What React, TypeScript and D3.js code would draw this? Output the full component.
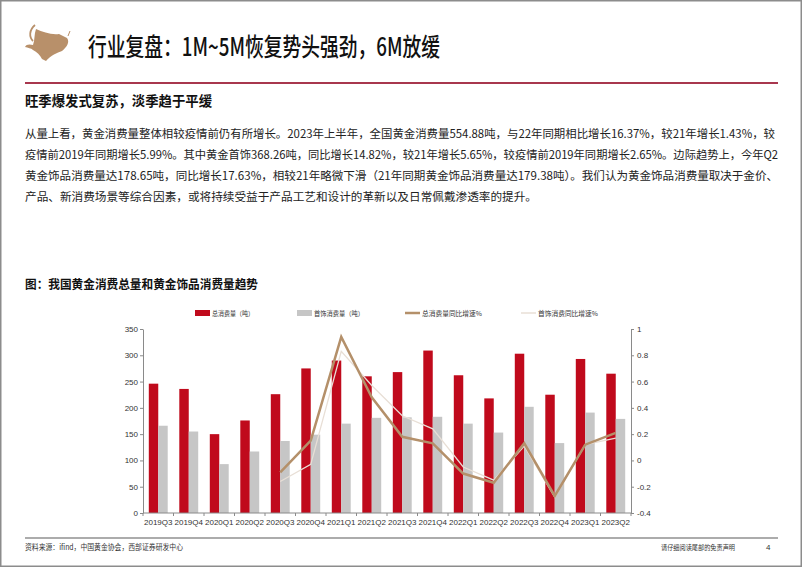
import React, { useEffect, useRef } from 'react';
import * as d3 from 'd3';

// quarterly gold consumption (tonnes) and YoY growth
const quarters = ['2019Q3', '2019Q4', '2020Q1', '2020Q2', '2020Q3', '2020Q4', '2021Q1', '2021Q2',
  '2021Q3', '2021Q4', '2022Q1', '2022Q2', '2022Q3', '2022Q4', '2023Q1', '2023Q2'];
const totalTons = [246, 236, 150, 176, 226, 275, 290, 260, 268, 309, 262, 218, 303, 225, 293, 265];
const jewelryTons = [166, 155, 93, 117, 137, 149, 170, 181, 182, 183, 170, 153, 202, 133, 191, 179];
const totalYoY = [null, null, null, null, -0.09, 0.15, 0.94, 0.48, 0.18, 0.13, -0.1, -0.17, 0.13, -0.27, 0.12, 0.21];
const jewelryYoY = [null, null, null, null, -0.16, -0.03, 0.83, 0.57, 0.34, 0.24, -0.05, -0.15, 0.11, -0.28, 0.12, 0.17];
const leftTicks = [0, 50, 100, 150, 200, 250, 300, 350];
const rightTicks = [-0.4, -0.2, 0, 0.2, 0.4, 0.6, 0.8, 1];

const legendItems = [
  { label: '总消费量（吨）', kind: 'bar', color: '#C00A1C' },
  { label: '首饰消费量（吨）', kind: 'bar', color: '#C6C6C6' },
  { label: '总消费量同比增速%', kind: 'line', color: '#B4906A' },
  { label: '首饰消费同比增速%', kind: 'line', color: '#E8DFD6' },
];

const paragraph = [
  '从量上看，黄金消费量整体相较疫情前仍有所增长。2023年上半年，全国黄金消费量554.88吨，与22年同期相比增长16.37%，较21年增长1.43%，较',
  '疫情前2019年同期增长5.99%。其中黄金首饰368.26吨，同比增长14.82%，较21年增长5.65%，较疫情前2019年同期增长2.65%。边际趋势上，今年Q2',
  '黄金饰品消费量达178.65吨，同比增长17.63%，相较21年略微下滑（21年同期黄金饰品消费量达179.38吨）。我们认为黄金饰品消费量取决于金价、',
  '产品、新消费场景等综合因素，或将持续受益于产品工艺和设计的革新以及日常佩戴渗透率的提升。',
];
const paragraphWidths = [750, 753, 753, 512];

const CJK = '"Noto Sans CJK SC", "Noto Sans", sans-serif';
const NUM = '"Liberation Sans", Arial, sans-serif';

const Chart = () => {
  const gRef = useRef(null);

  useEffect(() => {
    const g = d3.select(gRef.current);
    g.selectAll('*').remove();

    const left = 143, right = 631, top = 329, bottom = 513;

    const x = d3.scaleBand().domain(quarters).range([left, right]).padding(0);
    const yL = d3.scaleLinear().domain([0, 350]).range([bottom, top]);
    const yR = d3.scaleLinear().domain([-0.4, 1]).range([bottom, top]);
    const barW = x.bandwidth() * 0.31;
    const cx = (q) => x(q) + x.bandwidth() / 2;

    // bars
    g.append('g').selectAll('rect').data(quarters).enter().append('rect')
      .attr('x', q => cx(q) - barW)
      .attr('y', (q, i) => yL(totalTons[i]))
      .attr('width', barW)
      .attr('height', (q, i) => yL(0) - yL(totalTons[i]))
      .attr('fill', legendItems[0].color);

    g.append('g').selectAll('rect').data(quarters).enter().append('rect')
      .attr('x', q => cx(q))
      .attr('y', (q, i) => yL(jewelryTons[i]))
      .attr('width', barW)
      .attr('height', (q, i) => yL(0) - yL(jewelryTons[i]))
      .attr('fill', legendItems[1].color);

    // growth lines
    const line = d3.line()
      .defined(d => d.v !== null)
      .x(d => cx(d.q))
      .y(d => yR(d.v));

    g.append('path')
      .datum(quarters.map((q, i) => ({ q, v: jewelryYoY[i] })))
      .attr('d', line)
      .attr('fill', 'none')
      .attr('stroke', legendItems[3].color)
      .attr('stroke-width', 1.3);

    g.append('path')
      .datum(quarters.map((q, i) => ({ q, v: totalYoY[i] })))
      .attr('d', line)
      .attr('fill', 'none')
      .attr('stroke', legendItems[2].color)
      .attr('stroke-width', 2.5)
      .attr('stroke-linejoin', 'miter');

    // axes
    const styleAxis = (sel) => {
      sel.selectAll('path, line').attr('stroke', '#8a8a8a');
      sel.selectAll('text').attr('fill', '#333').style('font-family', NUM).style('font-size', '8px');
    };

    g.append('g')
      .attr('transform', `translate(${left},0)`)
      .call(d3.axisLeft(yL).tickValues(leftTicks).tickSize(3).tickSizeOuter(0).tickPadding(2))
      .call(styleAxis);

    g.append('g')
      .attr('transform', `translate(${right},0)`)
      .call(d3.axisRight(yR).tickValues(rightTicks).tickSize(3).tickSizeOuter(0).tickPadding(3)
        .tickFormat(d => String(+d.toFixed(1))))
      .call(styleAxis);

    const xAxis = g.append('g');
    xAxis.append('line')
      .attr('x1', left).attr('x2', right)
      .attr('y1', bottom).attr('y2', bottom)
      .attr('stroke', '#8a8a8a');
    xAxis.selectAll('.tick').data(quarters.concat(['end'])).enter().append('line')
      .attr('x1', (q, i) => left + i * x.step())
      .attr('x2', (q, i) => left + i * x.step())
      .attr('y1', bottom).attr('y2', bottom + 3)
      .attr('stroke', '#8a8a8a');
    xAxis.selectAll('text').data(quarters).enter().append('text')
      .attr('x', q => cx(q))
      .attr('y', bottom + 12)
      .attr('text-anchor', 'middle')
      .attr('fill', '#333')
      .style('font-family', NUM)
      .style('font-size', '8px')
      .text(q => q);

    // legend
    const legendX = [195, 297, 405, 521];
    const legendLen = [42, 50, 60, 60];
    const lg = g.append('g');
    legendItems.forEach((item, i) => {
      if (item.kind === 'bar') {
        lg.append('rect').attr('x', legendX[i]).attr('y', 310).attr('width', 15).attr('height', 6)
          .attr('fill', item.color);
      } else {
        lg.append('line').attr('x1', legendX[i]).attr('x2', legendX[i] + 15)
          .attr('y1', 313).attr('y2', 313)
          .attr('stroke', item.color).attr('stroke-width', i === 2 ? 2.5 : 1.5);
      }
      lg.append('text')
        .attr('x', legendX[i] + 17)
        .attr('y', 315.5)
        .attr('textLength', legendLen[i])
        .attr('lengthAdjust', 'spacingAndGlyphs')
        .attr('fill', '#333')
        .style('font-family', CJK)
        .style('font-size', '6.5px')
        .text(item.label);
    });
  }, []);

  return <g ref={gRef} />;
};

export default function App() {
  return (
    <svg width={802} height={567} style={{ position: 'absolute', left: 0, top: 0, background: '#fff' }}>
      <rect x={0.75} y={0.75} width={800.5} height={565.5} fill="#fff" stroke="#8c8c8c" strokeWidth={1.5} />

      {/* bull logo */}
      <g fill="#B8906A">
        <path d="M36,29 C43,32 51,35 59,34 L67,38 C70,42 67,47 62,51 C57,53 51,55 46,61 L42,59 C40,55 37,52 33,50 C31,48 28,48 25,47 C26,44 30,44 33,45 C35,40 34,34 36,29 Z" />
        <path d="M35,25 C29,30 29,37 33,41" fill="none" stroke="#B8906A" strokeWidth={1.8} />
        <path d="M68,36 L70,31" fill="none" stroke="#B8906A" strokeWidth={1} />
      </g>

      <text x={88} y={56} textLength={352} lengthAdjust="spacingAndGlyphs"
        style={{ fontFamily: CJK, fontSize: 25, fontWeight: 500 }} fill="#111">
        行业复盘：1M~5M恢复势头强劲，6M放缓
      </text>

      <line x1={25} x2={778} y1={83} y2={83} stroke="#A8374E" strokeWidth={2} />

      <text x={25} y={106} textLength={187} lengthAdjust="spacingAndGlyphs"
        style={{ fontFamily: CJK, fontSize: 14, fontWeight: 700 }} fill="#111">
        旺季爆发式复苏，淡季趋于平缓
      </text>

      {paragraph.map((line, i) => (
        <text key={i} x={25} y={137.5 + i * 21} textLength={paragraphWidths[i]} lengthAdjust="spacingAndGlyphs"
          style={{ fontFamily: CJK, fontSize: 11.5 }} fill="#222">
          {line}
        </text>
      ))}

      <text x={25} y={288.5} textLength={233} lengthAdjust="spacingAndGlyphs"
        style={{ fontFamily: CJK, fontSize: 12.5, fontWeight: 700 }} fill="#111">
        图：我国黄金消费总量和黄金饰品消费量趋势
      </text>

      <Chart />

      <line x1={25} x2={778} y1={538} y2={538} stroke="#909090" strokeWidth={1.5} />
      <text x={25} y={550} textLength={158} lengthAdjust="spacingAndGlyphs"
        style={{ fontFamily: CJK, fontSize: 7.5 }} fill="#333">
        资料来源：ifind，中国黄金协会，西部证券研发中心
      </text>
      <text x={661} y={550} textLength={74} lengthAdjust="spacingAndGlyphs"
        style={{ fontFamily: CJK, fontSize: 7 }} fill="#333">
        请仔细阅读尾部的免责声明
      </text>
      <text x={766} y={550} style={{ fontFamily: NUM, fontSize: 8 }} fill="#333">4</text>
    </svg>
  );
}
